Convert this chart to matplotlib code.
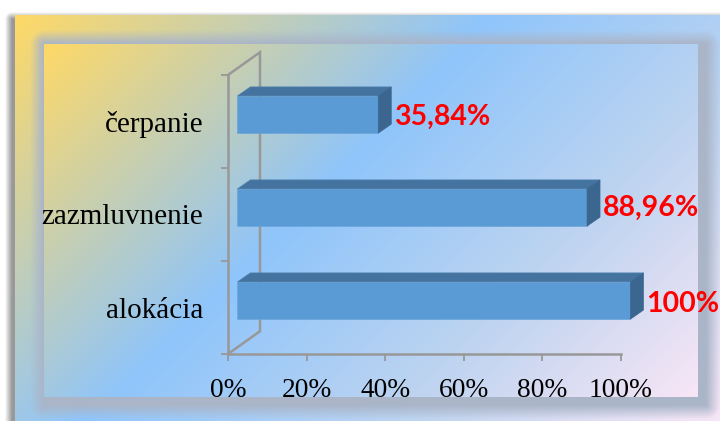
import numpy as np
from matplotlib import pyplot as plt
from matplotlib.patches import Polygon

categories = ['alokácia', 'zazmluvnenie', 'čerpanie']
values = [100, 88.96, 35.84]
value_labels = ['100%', '88,96%', '35,84%']
x_ticks = [0, 20, 40, 60, 80, 100]

W, H = 720, 421
GRAY = '#989898'
yy, xx = np.mgrid[0:H, 0:W] + 0.5


def gradient(x0, y0, x1, y1):
    # diagonal fill: yellow -> blue -> pale pink
    t = ((xx - x0) + (yy - y0)) / ((x1 - x0) + (y1 - y0))
    stops = [0, 0.42, 0.72, 1]
    cols = np.array([[255, 217, 102], [143, 197, 251], [190, 212, 240], [248, 230, 246]])
    return np.dstack([np.interp(t, stops, cols[:, i]) for i in range(3)])


def rect_dist(x0, y0, x1, y1):
    dx = np.maximum(np.maximum(x0 - xx, xx - x1), 0)
    dy = np.maximum(np.maximum(y0 - yy, yy - y1), 0)
    return np.hypot(dx, dy)


# background: page, shadow, outer panel, gray glow, inner panel
img = np.full((H, W, 3), 255.0)
a = np.clip(1 - rect_dist(12, 19, 760, 460) / 7, 0, 1)[..., None] * 0.75
img = img * (1 - a) + np.array([120, 120, 120]) * a
outer = (xx >= 15) & (yy >= 15)
img[outer] = gradient(15, 15, 725, 425)[outer]
a = np.clip(1 - rect_dist(44, 44, 706, 405) / 14, 0, 1)[..., None]
img = img * (1 - a) + np.array([170, 181, 200]) * a
inner = (xx >= 44) & (xx <= 698) & (yy >= 44) & (yy <= 397)
img[inner] = gradient(44, 44, 698, 397)[inner]

fig = plt.figure(figsize=(W / 100, H / 100), dpi=100)
bg = fig.add_axes([0, 0, 1, 1])
bg.imshow(img.astype(np.uint8), aspect='auto', interpolation='bilinear')
bg.axis('off')

ax = fig.add_axes([228 / W, 1 - 354 / H, (621 - 228) / W, (354 - 75) / H])
ax.patch.set_alpha(0)
ax.set_xlim(0, 100)
ax.set_ylim(-0.5, 2.5)

# 3d offsets in data units
bar_x0 = 2.4
bar_dy = 0.075
bar_h = 0.4
dep_x, dep_y = 3.3, 0.097
wall_x, wall_y = 8.14, 0.245
label_shift = [0.04, 0.07, 0.045]

# back wall
ax.plot([0, wall_x, wall_x, 0], [-0.5, -0.5 + wall_y, 2.5 + wall_y, 2.5],
        color=GRAY, lw=1.8, clip_on=False, solid_joinstyle='miter')

for i, (v, lab) in enumerate(zip(values, value_labels)):
    y0 = i + bar_dy - bar_h / 2
    y1 = i + bar_dy + bar_h / 2
    x1 = bar_x0 + v
    ax.barh(i + bar_dy, v, left=bar_x0, height=bar_h, color='#5B9BD5', edgecolor='#6AA5DB', lw=0.5,
            zorder=3, clip_on=False)
    ax.add_patch(Polygon([(bar_x0, y1), (bar_x0 + dep_x, y1 + dep_y), (x1 + dep_x, y1 + dep_y), (x1, y1)],
                         fc='#44739F', ec='#4F80AD', lw=0.5, zorder=3, clip_on=False))
    ax.add_patch(Polygon([(x1, y0), (x1 + dep_x, y0 + dep_y), (x1 + dep_x, y1 + dep_y), (x1, y1)],
                         fc='#3A668F', ec='#3A668F', lw=0.5, zorder=3, clip_on=False))
    ax.text(x1 + dep_x + 0.7, i + label_shift[i], lab, color='#FF0000', fontsize=20.5, fontweight='bold',
            family='Lato', va='center', ha='left', clip_on=False, zorder=4)

for s in ['top', 'right']:
    ax.spines[s].set_visible(False)
for s in ['left', 'bottom']:
    ax.spines[s].set_color(GRAY)
    ax.spines[s].set_linewidth(1.8)

ax.set_xticks(x_ticks)
ax.set_xticklabels([str(t) + '%' for t in x_ticks], family='Liberation Serif', fontsize=19.8)
ax.tick_params(axis='x', length=5, width=1.3, color=GRAY, pad=12)

ax.set_yticks(range(len(categories)))
ax.set_yticklabels(categories, family='Liberation Serif', fontsize=21)
ax.tick_params(axis='y', which='major', length=0, pad=18)
ax.set_yticks([-0.5, 0.5, 1.5, 2.5], minor=True)
ax.tick_params(axis='y', which='minor', length=5, width=1.3, color=GRAY)

fig.savefig('out.png', dpi=100)
